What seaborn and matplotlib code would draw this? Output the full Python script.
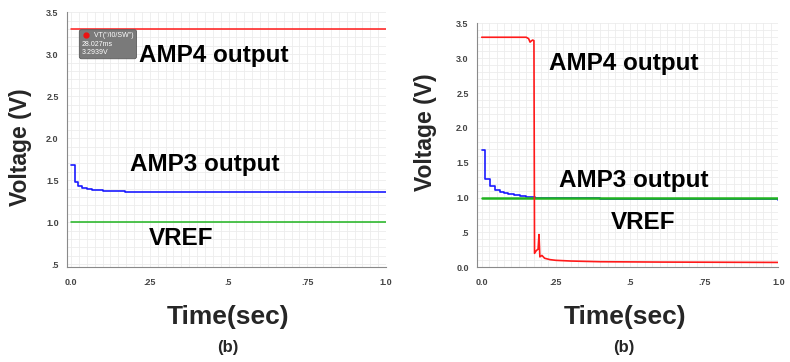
import numpy as np
import pandas as pd
import seaborn as sns
import matplotlib.pyplot as plt
from matplotlib.ticker import MultipleLocator, FixedLocator, FixedFormatter

sns.set_style('white')
plt.rcParams['font.family'] = ['Liberation Sans', 'DejaVu Sans']

# left panel (steady state)
left_amp3_t = [0, 0.008, 0.011, 0.022, 0.036, 0.05, 0.065, 0.08, 0.1, 0.12, 0.17, 0.3, 0.35, 1.0]
left_amp3_v = [1.68, 1.68, 1.48, 1.43, 1.41, 1.395, 1.385, 1.378, 1.372, 1.368, 1.365, 1.362, 1.36, 1.36]
left_amp4_t = [0, 1.0]
left_amp4_v = [3.30, 3.30]
left_vref_t = [0, 1.0]
left_vref_v = [1.0, 1.0]

# right panel (switching)
right_amp3_t = [0, 0.008, 0.012, 0.027, 0.044, 0.06, 0.075, 0.09, 0.11, 0.13, 0.15, 0.18, 0.25, 0.4, 0.6, 1.0]
right_amp3_v = [1.68, 1.68, 1.26, 1.16, 1.11, 1.08, 1.06, 1.045, 1.03, 1.02, 1.01, 1.0, 0.99, 0.98, 0.975, 0.97]
right_amp4_t = [0, 0.15, 0.158, 0.163, 0.168, 0.172, 0.176, 0.178, 0.184, 0.19, 0.193, 0.196, 0.203, 0.212,
                0.23, 0.25, 0.3, 0.4, 0.6, 1.0]
right_amp4_v = [3.30, 3.30, 3.28, 3.23, 3.25, 3.26, 3.25, 0.2, 0.24, 0.26, 0.47, 0.15, 0.17, 0.13,
                0.11, 0.1, 0.09, 0.08, 0.075, 0.07]
right_vref_t = [0, 1.0]
right_vref_v = [1.0, 1.0]

x_ticks = [0, 0.25, 0.5, 0.75, 1.0]
x_labels = ['0.0', '.25', '.5', '.75', '1.0']
left_y_ticks = [0.5, 1.0, 1.5, 2.0, 2.5, 3.0, 3.5]
left_y_labels = ['.5', '1.0', '1.5', '2.0', '2.5', '3.0', '3.5']
right_y_ticks = [0.0, 0.5, 1.0, 1.5, 2.0, 2.5, 3.0, 3.5]
right_y_labels = ['0.0', '.5', '1.0', '1.5', '2.0', '2.5', '3.0', '3.5']

RED = '#ff1a1a'
BLUE = '#1a1aff'
GREEN = '#1fb31f'

fig = plt.figure(figsize=(7.9, 3.62), dpi=100)
ax1 = fig.add_axes([0.0848, 0.262, 0.4038, 0.704])
ax2 = fig.add_axes([0.6038, 0.2616, 0.3814, 0.674])


def style_axes(ax, yticks, ylabels):
    ax.xaxis.set_major_locator(FixedLocator(x_ticks))
    ax.xaxis.set_major_formatter(FixedFormatter(x_labels))
    ax.yaxis.set_major_locator(FixedLocator(yticks))
    ax.yaxis.set_major_formatter(FixedFormatter(ylabels))
    ax.xaxis.set_minor_locator(MultipleLocator(0.025))
    ax.yaxis.set_minor_locator(MultipleLocator(0.1))
    ax.grid(which='both', color='#ececec', linewidth=0.6)
    ax.set_axisbelow(True)
    for s in ['top', 'right']:
        ax.spines[s].set_visible(False)
    for s in ['left', 'bottom']:
        ax.spines[s].set_color('#8a8a8a')
        ax.spines[s].set_linewidth(0.8)
    ax.tick_params(which='major', length=4, width=0.7, color='#8a8a8a', labelsize=6.5,
                   labelcolor='#444444', pad=2)
    ax.tick_params(axis='x', which='major', pad=4)
    ax.tick_params(which='minor', length=2, width=0.6, color='#8a8a8a')
    for lab in ax.get_xticklabels() + ax.get_yticklabels():
        lab.set_fontweight('bold')
    ax.set_xlabel('')
    ax.set_ylabel('')


# left panel
sns.lineplot(x=left_amp4_t, y=left_amp4_v, ax=ax1, color=RED, linewidth=1.1, estimator=None, sort=False)
sns.lineplot(x=left_vref_t, y=left_vref_v, ax=ax1, color=GREEN, linewidth=1.1, estimator=None, sort=False)
sns.lineplot(x=left_amp3_t, y=left_amp3_v, ax=ax1, color=BLUE, linewidth=1.2, estimator=None, sort=False,
             drawstyle='steps-post')
ax1.set_xlim(-0.013, 1.0)
ax1.set_ylim(0.465, 3.5)
style_axes(ax1, left_y_ticks, left_y_labels)

# right panel
sns.lineplot(x=right_amp3_t, y=right_amp3_v, ax=ax2, color=BLUE, linewidth=1.2, estimator=None, sort=False,
             drawstyle='steps-post')
sns.lineplot(x=right_vref_t, y=right_vref_v, ax=ax2, color=GREEN, linewidth=1.8, estimator=None, sort=False)
sns.lineplot(x=right_amp4_t, y=right_amp4_v, ax=ax2, color=RED, linewidth=1.2, estimator=None, sort=False)
ax2.set_xlim(-0.016, 1.0)
ax2.set_ylim(0.0, 3.5)
style_axes(ax2, right_y_ticks, right_y_labels)

# curve labels
lab_kw = dict(fontsize=17.5, fontweight='bold', color='black', ha='center', va='center')
ax1.text(0.454, 2.98, 'AMP4 output', **lab_kw)
ax1.text(0.424, 1.69, 'AMP3 output', **lab_kw)
ax1.text(0.348, 0.81, 'VREF', **lab_kw)
ax2.text(0.48, 2.93, 'AMP4 output', **lab_kw)
ax2.text(0.513, 1.24, 'AMP3 output', **lab_kw)
ax2.text(0.545, 0.64, 'VREF', **lab_kw)

# cursor tooltip on left panel
ax1.text(0.035, 3.12, '      VT("/I0/SW")\n28.027ms\n3.2939V', fontsize=5, color='white',
         ha='left', va='center', linespacing=1.25, zorder=5,
         bbox=dict(boxstyle='round,pad=0.4,rounding_size=0.3', facecolor='#7a7a7a', edgecolor='#5a5a5a',
                   linewidth=0.6))
ax1.plot([0.047], [3.23], marker='o', color='#ee1111', markersize=3.5, zorder=6)

# axis titles
fig.text(0.026, 0.594, 'Voltage (V)', fontsize=16.5, fontweight='bold', rotation=90, ha='center', va='center')
fig.text(0.538, 0.635, 'Voltage (V)', fontsize=16.5, fontweight='bold', rotation=90, ha='center', va='center')
fig.text(0.289, 0.124, 'Time(sec)', fontsize=19, fontweight='bold', ha='center', va='center')
fig.text(0.791, 0.124, 'Time(sec)', fontsize=19, fontweight='bold', ha='center', va='center')
fig.text(0.289, 0.041, '(b)', fontsize=12, fontweight='bold', ha='center', va='center')
fig.text(0.79, 0.041, '(b)', fontsize=12, fontweight='bold', ha='center', va='center')

fig.savefig('out.png', dpi=100)
